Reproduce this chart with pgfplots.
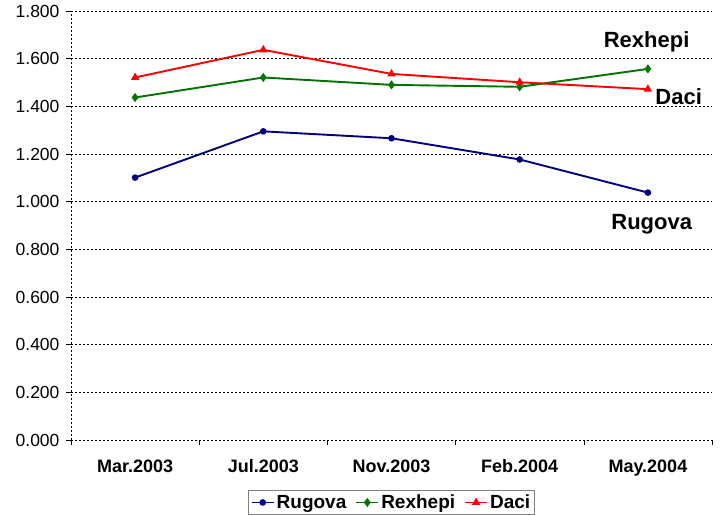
\documentclass[border=0pt]{standalone}
\usepackage{fontspec}
\setmainfont{Liberation Sans}
\usepackage{pgfplots}
\pgfplotsset{compat=1.18}
\definecolor{rug}{RGB}{0,0,128}
\definecolor{rex}{RGB}{0,115,0}
\definecolor{dac}{RGB}{255,0,0}
\begin{document}
\begin{tikzpicture}[x=1pt,y=1pt]
\path[use as bounding box] (0,0) rectangle (722,514);
\begin{axis}[
  at={(71pt,74pt)}, anchor=south west,
  width=641pt, height=429pt, scale only axis,
  xmin=-0.5, xmax=4.5, ymin=0, ymax=1.8,
  xtick={-0.5,0.5,1.5,2.5,3.5,4.5}, xticklabels={},
  extra x ticks={0,1,2,3,4},
  extra x tick labels={Mar.2003,Jul.2003,Nov.2003,Feb.2004,May.2004},
  extra x tick style={major tick length=0pt, xticklabel style={font=\bfseries\fontsize{18}{21}\selectfont, yshift=-16pt}},
  ytick={0,0.2,0.4,0.6,0.8,1.0,1.2,1.4,1.6,1.8},
  ymajorgrids,
  grid style={black, dash pattern=on 2pt off 2pt, line width=0.6pt},
  axis x line*=bottom, axis y line*=left,
  axis line style={black, dash pattern=on 2pt off 2pt, line width=0.6pt, -},
  tick style={black, line width=0.6pt},
  tick align=outside, major tick length=5pt,
  yticklabel style={font=\fontsize{17.5}{20}\selectfont, xshift=-3pt},
  /pgf/number format/.cd, fixed, fixed zerofill, precision=3, assume math mode=true,
  /pgfplots/.cd,
  legend style={at={(0.5,-0.1166)}, anchor=north, legend columns=-1, draw=gray, line width=0.6pt,
    font=\bfseries\fontsize{19}{22}\selectfont, inner sep=2.5pt,
    /tikz/every even column/.append style={column sep=7pt}},
  legend image code/.code={\draw[mark repeat=2,mark phase=2] plot coordinates {(0pt,0pt) (11pt,0pt) (22pt,0pt)};},
]
\addplot[rug, line width=1.9pt, mark=*, mark size=2.3pt] coordinates {(0,1.101) (1,1.295) (2,1.266) (3,1.177) (4,1.038)};
\addlegendentry{Rugova}
\addplot[rex, line width=1.9pt, mark=diamond*, mark size=3pt] coordinates {(0,1.437) (1,1.521) (2,1.490) (3,1.482) (4,1.557)};
\addlegendentry{Rexhepi}
\addplot[dac, line width=1.9pt, mark=triangle*, mark size=3pt] coordinates {(0,1.521) (1,1.637) (2,1.536) (3,1.501) (4,1.472)};
\addlegendentry{Daci}
\node[anchor=base, font=\bfseries\fontsize{22}{26}\selectfont] at (axis cs:3.99,1.646) {Rexhepi};
\node[anchor=base, font=\bfseries\fontsize{22}{26}\selectfont] at (axis cs:4.24,1.406) {Daci};
\node[anchor=base, font=\bfseries\fontsize{22}{26}\selectfont] at (axis cs:4.03,0.885) {Rugova};
\end{axis}
\end{tikzpicture}
\end{document}
